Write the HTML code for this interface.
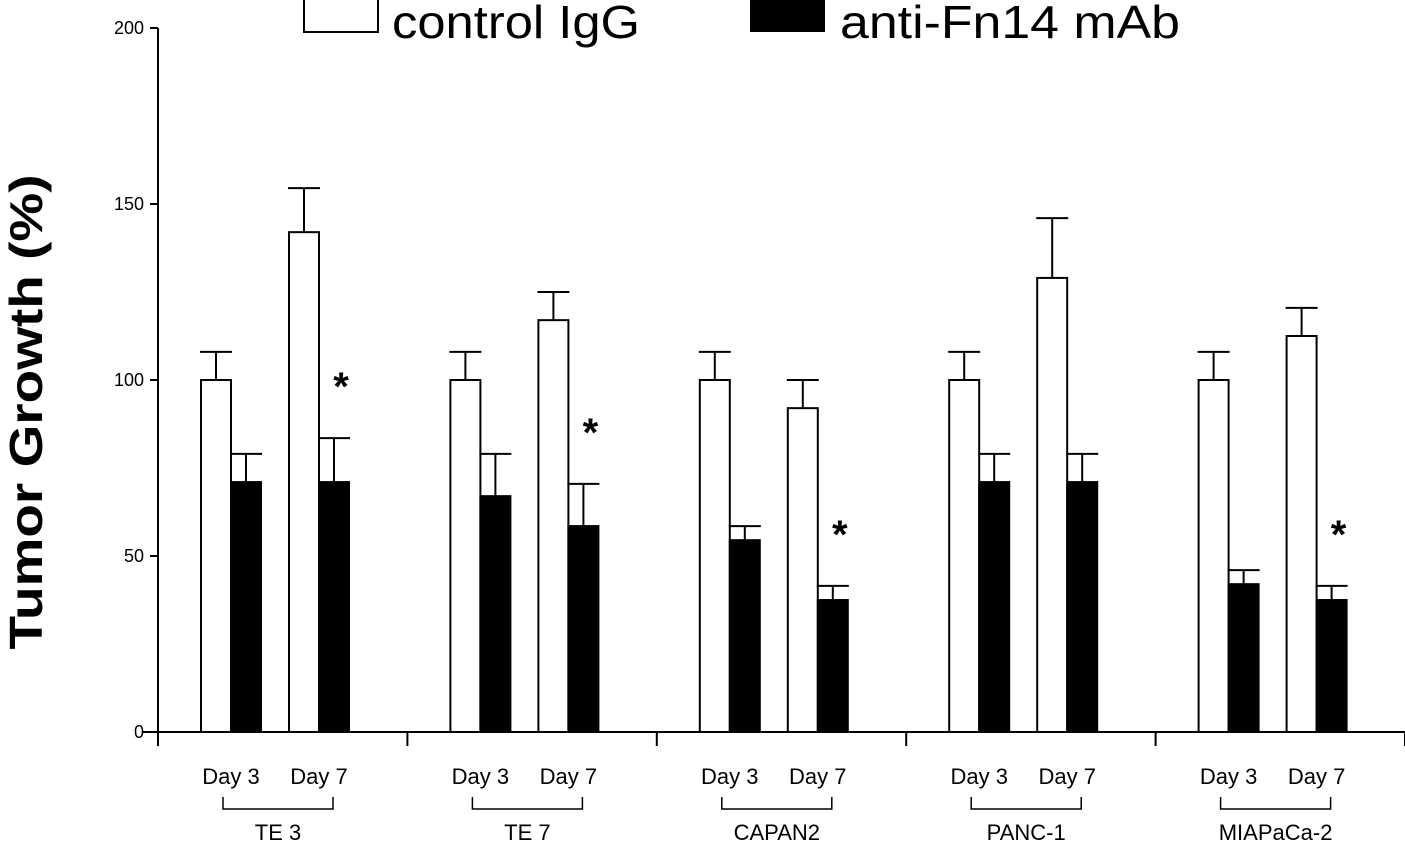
<!DOCTYPE html>
<html><head><meta charset="utf-8"><style>
html,body{margin:0;padding:0;background:#fff;}
svg{display:block;font-family:"Liberation Sans",Arial,sans-serif;}
</style></head><body>
<svg id="chart" width="1405" height="853" viewBox="0 0 1405 853">
<g id="legend">
 <rect x="304" y="-4" width="74" height="36" fill="#fff" stroke="#000" stroke-width="2"/>
 <text x="392" y="38" font-size="46" textLength="248" lengthAdjust="spacingAndGlyphs">control IgG</text>
 <rect x="750" y="-4" width="75" height="36" fill="#000"/>
 <text x="840" y="38" font-size="46" textLength="340" lengthAdjust="spacingAndGlyphs">anti-Fn14 mAb</text>
</g>
<text transform="translate(42,412) rotate(-90)" text-anchor="middle" font-size="46" font-weight="bold" textLength="475" lengthAdjust="spacingAndGlyphs">Tumor Growth (%)</text>
<g id="axes"></g>
<g id="bars"></g>
</svg>
<script>
const groups=["TE 3","TE 7","CAPAN2","PANC-1","MIAPaCa-2"];
const days=["Day 3","Day 7"];
const ctrlD3=[100,100,100,100,100];
const ctrlD3Err=[8,8,8,8,8];
const ctrlD7=[142,117,92,129,112.5];
const ctrlD7Err=[12.5,8,8,17,8];
const antiD3=[71,67,54.5,71,42];
const antiD3Err=[8,12,4,8,4];
const antiD7=[71,58.5,37.5,71,37.5];
const antiD7Err=[12.5,12,4,8,4];
const signif=[true,true,true,false,true];
const yTicks=[0,50,100,150,200];

const NS="http://www.w3.org/2000/svg";
const y=v=>732-v*3.52;
const gx=i=>158+i*249.4;
function el(tag,attrs,parent){const e=document.createElementNS(NS,tag);for(const k in attrs)e.setAttribute(k,attrs[k]);parent.appendChild(e);return e;}
const ax=document.getElementById('axes'),bars=document.getElementById('bars');
let e=el('line',{x1:143,y1:732,x2:1405,y2:732,stroke:'#000','stroke-width':2},ax);


e=el('line',{x1:158,y1:y(200),x2:158,y2:746,stroke:'#000','stroke-width':2},ax);


yTicks.forEach(t=>{
 let l=el('line',{x1:150,y1:y(t),x2:158,y2:y(t),stroke:'#000','stroke-width':2},ax);
 
 
 let tx=el('text',{x:144,y:y(t)+6,'text-anchor':'end','font-size':18},ax);tx.textContent=t;
 
 
});
for(let i=0;i<=5;i++){
 let l=el('line',{x1:gx(i),y1:732,x2:gx(i),y2:746,stroke:'#000','stroke-width':2},ax);
 
 
}
function bar(x,v,err,black,name){
 const g=el('g',{},bars);
 
 
 const cx=x+15;
 el('line',{x1:cx,y1:y(v),x2:cx,y2:y(v+err),stroke:'#000','stroke-width':2},g);
 el('line',{x1:cx-16,y1:y(v+err),x2:cx+16,y2:y(v+err),stroke:'#000','stroke-width':2},g);
 el('rect',{x:x,y:y(v),width:30,height:732-y(v),fill:black?'#000':'#fff',stroke:'#000','stroke-width':2},g);
}
groups.forEach((gname,i)=>{
 const g0=gx(i);
 bar(g0+43,ctrlD3[i],ctrlD3Err[i],false,'bar-control-day3');
 bar(g0+73,antiD3[i],antiD3Err[i],true,'bar-anti-day3');
 bar(g0+131,ctrlD7[i],ctrlD7Err[i],false,'bar-control-day7');
 bar(g0+161,antiD7[i],antiD7Err[i],true,'bar-anti-day7');
 if(signif[i]){
  let s=el('text',{x:g0+183,y:y(antiD7[i]+antiD7Err[i])-38,'text-anchor':'middle','font-size':40,'font-weight':'bold'},bars);
  s.textContent='*';
  
  
 }
 [g0+73,g0+161].forEach((cx,d)=>{
  let t=el('text',{x:cx,y:784,'text-anchor':'middle','font-size':22},ax);t.textContent=days[d];
  
  
 });
 let br=el('path',{d:`M${g0+65},797 V809 H${g0+175} V797`,fill:'none',stroke:'#000','stroke-width':1.5},ax);
 
 
 let t=el('text',{x:g0+120,y:840,'text-anchor':'middle','font-size':22},ax);t.textContent=gname;
 
 
});
</script>
</body></html>
